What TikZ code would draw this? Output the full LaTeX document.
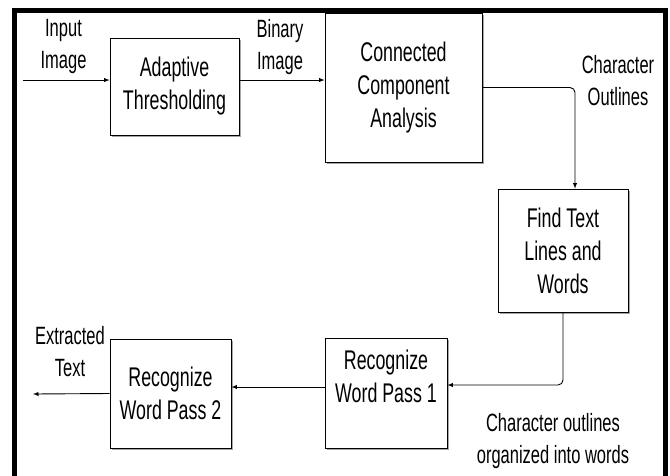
\documentclass[tikz,border=0pt]{standalone}
\usepackage{fontspec}
\setmainfont[FakeStretch=0.66]{Liberation Sans}
\usetikzlibrary{shadows}

\tikzset{
  stage/.style={draw, line width=0.8pt, fill=white, align=center, inner sep=0pt,
    font=\fontsize{27}{33}\selectfont,
    drop shadow={shadow xshift=1.5pt, shadow yshift=-1.5pt, fill=black!35, opacity=1}},
  tag/.style={align=center, inner sep=0pt, font=\fontsize{25}{32}\selectfont},
  flow/.style={->, line width=0.9pt}
}

\begin{document}
\begin{tikzpicture}[x=1pt, y=-1pt, >=latex]
    \useasboundingbox (0,0) rectangle (670,475);
    % frame
    \draw [line width=5pt] (14.5,490) -- (14.5,10) -- (665,10) -- (665,490);

    \node [stage, minimum width=129pt, minimum height=97pt]  (thresh) at (174.5,86.5) {Adaptive\\Thresholding};
    \node [stage, minimum width=157pt, minimum height=149pt] (cca)    at (403.5,87.5) {Connected\\Component\\Analysis};
    \node [stage, minimum width=130pt, minimum height=123pt] (find)   at (563,250.5)  {Find Text\\Lines and\\Words};
    \node [stage, minimum width=122pt, minimum height=110pt, text depth=34pt] (pass1) at (386,393) {Recognize\\Word Pass 1};
    \node [stage, minimum width=121pt, minimum height=109pt] (pass2)  at (170.5,393.5) {Recognize\\Word Pass 2};

    \coordinate (in)  at (23,80);
    \coordinate (out) at (33,394);

    \draw [flow] (in) -- (in -| thresh.west);
    \draw [flow] (in -| thresh.east) -- (in -| cca.west);
    \draw [flow, rounded corners=5pt] (cca.east) -| ([xshift=12pt]find.north);
    \draw [flow, rounded corners=5pt] (find.south) |- ([yshift=8pt]pass1.east);
    \draw [flow] ([yshift=6pt]pass1.west) -- ([yshift=6pt]pass1.west -| pass2.east);
    \draw [flow] (pass2.west) -- (out);

    \node [tag] (inText)    at (63.5,46)  {Input\\Image};
    \node [tag] (binText)   at (280,47)   {Binary\\Image};
    \node [tag] (outlText)  at (618,81)   {Character\\Outlines};
    \node [tag] (extText)   at (70,352)   {Extracted\\Text};
    \node [tag] (wordsText) at (553,441)  {Character outlines\\organized into words};
\end{tikzpicture}
\end{document}
